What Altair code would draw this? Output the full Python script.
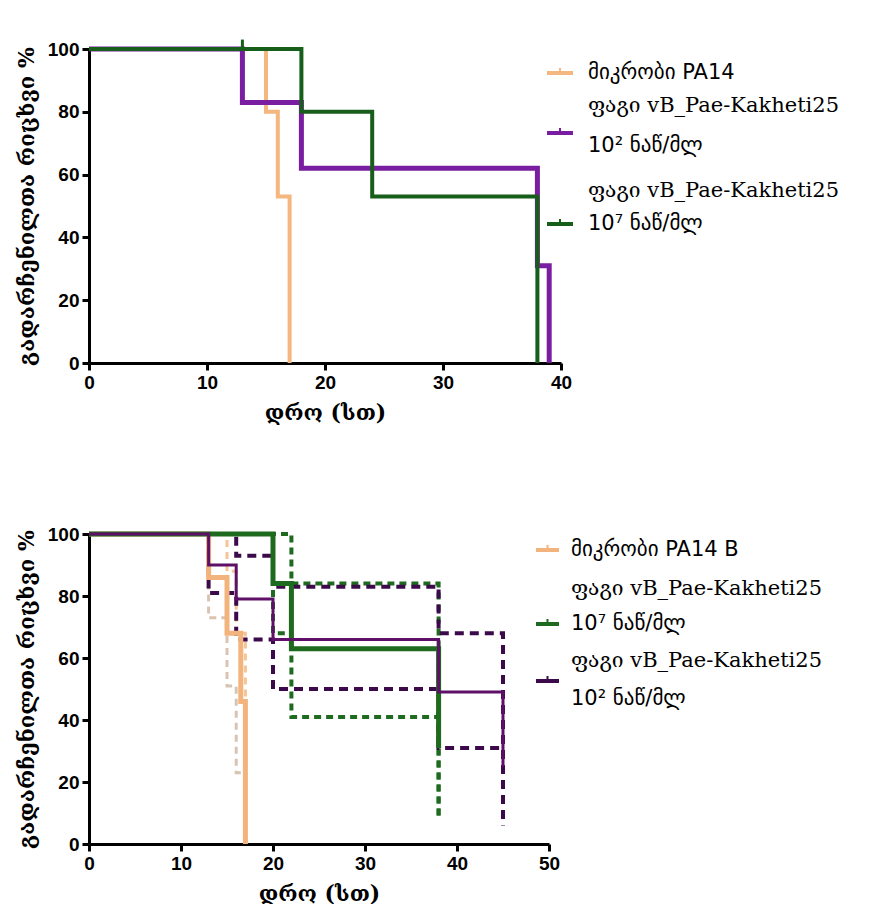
import altair as alt
import pandas as pd

# ---------------- texts ----------------
x_title = "დრო (სთ)"
y_title = "გადარჩენილთა რიცხვი %"

top_x_ticks = [0, 10, 20, 30, 40]
bot_x_ticks = [0, 10, 20, 30, 40, 50]
y_ticks = [0, 20, 40, 60, 80, 100]

# ---------------- top panel: survival (%) at event times ----------------
top_pa14_t = [0, 15, 16, 17]
top_pa14_s = [100, 80, 53, 0]
top_p2_t = [0, 13, 18, 38, 39]
top_p2_s = [100, 83, 62, 31, 0]
top_p7_t = [0, 18, 24, 38]
top_p7_s = [100, 80, 53, 0]
top_cens_t = [13]
top_cens_s = [100]

top_legend = [
    ["მიკრობი PA14"],
    ["ფაგი vB_Pae-Kakheti25", " 10² ნაწ/მლ"],
    ["ფაგი vB_Pae-Kakheti25", " 10⁷ ნაწ/მლ"],
]

# ---------------- bottom panel ----------------
bot_pa14_t = [0, 13, 15, 16.5, 17]
bot_pa14_s = [100, 86, 68, 46, 0]
bot_pa14_hi_t = [0, 15, 16, 17]
bot_pa14_hi_s = [100, 88, 68, 46]
bot_pa14_lo_t = [0, 13, 15, 16, 16.5]
bot_pa14_lo_s = [100, 73, 51, 23, 23]

bot_p7_t = [0, 20, 22, 38]
bot_p7_s = [100, 84, 63, 31]
bot_p7_hi_t = [0, 22, 38]
bot_p7_hi_s = [100, 84, 8]
bot_p7_lo_t = [0, 20, 22, 38]
bot_p7_lo_s = [100, 68, 41, 8]

bot_p2_t = [0, 13, 16, 20, 38, 45]
bot_p2_s = [100, 90, 79, 66, 49, 25]
bot_p2_hi_t = [0, 16, 20, 38, 45]
bot_p2_hi_s = [100, 93, 83, 68, 6]
bot_p2_lo_t = [0, 13, 16, 20, 38, 45]
bot_p2_lo_s = [100, 81, 66, 50, 31, 31]

bot_legend = [
    ["მიკრობი PA14 B"],
    ["ფაგი vB_Pae-Kakheti25", " 10⁷ ნაწ/მლ"],
    ["ფაგი vB_Pae-Kakheti25", " 10² ნაწ/მლ"],
]

# ---------------- styles ----------------
T_ORANGE, T_PURPLE, T_GREEN = "#F3B77F", "#7A1EA1", "#165E19"
B_ORANGE, B_ORANGE_HI, B_ORANGE_LO = "#F2B47C", "#F5C596", "#D9C4B2"
B_GREEN, B_PURPLE, B_PURPLE_D = "#1E6A1E", "#5E1068", "#3C0A4A"

SANS = "DejaVu Sans, Liberation Sans"
SERIF = "DejaVu Serif, Liberation Serif"
LABEL_FONT = "Liberation Sans, Arial"


def make_axes(xticks):
    xa = alt.Axis(values=xticks, title=x_title, format="d", labelFlush=False)
    ya = alt.Axis(values=y_ticks, title=y_title, format="d")
    return xa, ya


def step_line(t, s, color, width, xdom, xticks, dash=None):
    df = pd.DataFrame({"t": t, "s": s})
    mk = dict(interpolate="step-after", color=color, strokeWidth=width,
              strokeCap="butt", strokeJoin="miter")
    if dash:
        mk["strokeDash"] = dash
    xa, ya = make_axes(xticks)
    return alt.Chart(df).mark_line(**mk).encode(
        x=alt.X("t:Q", scale=alt.Scale(domain=xdom, nice=False), axis=xa),
        y=alt.Y("s:Q", scale=alt.Scale(domain=[0, 100], nice=False), axis=ya),
    )


def cens_ticks(t, s, color, xdom, xticks):
    df = pd.DataFrame({"t": t, "s": s})
    xa, ya = make_axes(xticks)
    return alt.Chart(df).transform_calculate(s2="datum.s + 3").mark_rule(
        color=color, strokeWidth=3
    ).encode(
        x=alt.X("t:Q", scale=alt.Scale(domain=xdom, nice=False), axis=xa),
        y=alt.Y("s:Q", scale=alt.Scale(domain=[0, 100], nice=False), axis=ya),
        y2="s2:Q",
    )


def legend_layers(entries, colors, widths, text_x, sym_x0, sym_x1, line_ys, sym_ys):
    one = pd.DataFrame({"a": [0]})
    layers = []
    for entry, color, w, ys, sy in zip(entries, colors, widths, line_ys, sym_ys):
        layers.append(alt.Chart(one).mark_rule(color=color, strokeWidth=w).encode(
            x=alt.value(sym_x0), x2=alt.value(sym_x1), y=alt.value(sy)))
        mid = (sym_x0 + sym_x1) / 2
        layers.append(alt.Chart(one).mark_rule(color=color, strokeWidth=2).encode(
            x=alt.value(mid), y=alt.value(sy - 5), y2=alt.value(sy)))
        for line, y in zip(entry, ys):
            font = SERIF if "vB" in line else SANS
            layers.append(alt.Chart(one).mark_text(
                align="left", baseline="middle", font=font, fontSize=21, color="black"
            ).encode(x=alt.value(text_x), y=alt.value(y), text=alt.value(line)))
    return layers


# ---------------- top panel ----------------
TX = [0, 40]
top_lines = [
    step_line(top_pa14_t, top_pa14_s, T_ORANGE, 4, TX, top_x_ticks),
    step_line(top_p2_t, top_p2_s, T_PURPLE, 5, TX, top_x_ticks),
    step_line(top_p7_t, top_p7_s, T_GREEN, 4, TX, top_x_ticks),
    cens_ticks(top_cens_t, top_cens_s, T_GREEN, TX, top_x_ticks),
]
top_leg = legend_layers(
    top_legend, [T_ORANGE, T_PURPLE, T_GREEN], [4, 4, 4],
    text_x=499, sym_x0=458, sym_x1=484,
    line_ys=[[24], [57, 97], [142, 175]], sym_ys=[24, 84, 175],
)
top = alt.layer(*top_lines, *top_leg).properties(width=472, height=314)

# ---------------- bottom panel ----------------
BX = [0, 50]
bot_lines = [
    step_line(bot_pa14_hi_t, bot_pa14_hi_s, B_ORANGE_HI, 3, BX, bot_x_ticks, [7, 5]),
    step_line(bot_pa14_lo_t, bot_pa14_lo_s, B_ORANGE_LO, 3, BX, bot_x_ticks, [7, 5]),
    step_line(bot_p7_hi_t, bot_p7_hi_s, B_GREEN, 4, BX, bot_x_ticks, [7, 5]),
    step_line(bot_p7_lo_t, bot_p7_lo_s, B_GREEN, 4, BX, bot_x_ticks, [7, 5]),
    step_line(bot_p2_hi_t, bot_p2_hi_s, B_PURPLE_D, 4, BX, bot_x_ticks, [9, 6]),
    step_line(bot_p2_lo_t, bot_p2_lo_s, B_PURPLE_D, 4, BX, bot_x_ticks, [9, 6]),
    step_line(bot_pa14_t, bot_pa14_s, B_ORANGE, 5, BX, bot_x_ticks),
    step_line(bot_p7_t, bot_p7_s, B_GREEN, 5, BX, bot_x_ticks),
    step_line(bot_p2_t, bot_p2_s, B_PURPLE, 3, BX, bot_x_ticks),
]
bot_leg = legend_layers(
    bot_legend, [B_ORANGE, B_GREEN, B_PURPLE_D], [4, 4, 4],
    text_x=482, sym_x0=447, sym_x1=470,
    line_ys=[[16], [55, 90], [127, 165]], sym_ys=[16, 90, 147],
)
bottom = alt.layer(*bot_lines, *bot_leg).properties(width=460, height=310)

chart = alt.vconcat(top, bottom, spacing=171, bounds="flush").properties(
    padding={"left": 15, "top": 38, "right": 0, "bottom": 0}
).configure_view(stroke=None).configure_axis(
    domainColor="black", domainWidth=3, tickColor="black", tickWidth=3, tickSize=7,
    labelFont=LABEL_FONT, labelFontSize=19, labelFontWeight="bold", labelColor="black",
    labelPadding=3, titleFont=SERIF, titleFontSize=22, titleFontWeight="bold",
    titleColor="black", grid=False,
).configure_axisX(titlePadding=10).configure_axisY(titlePadding=9)

chart.save("out.html", embed_options={"renderer": "svg", "actions": False})
